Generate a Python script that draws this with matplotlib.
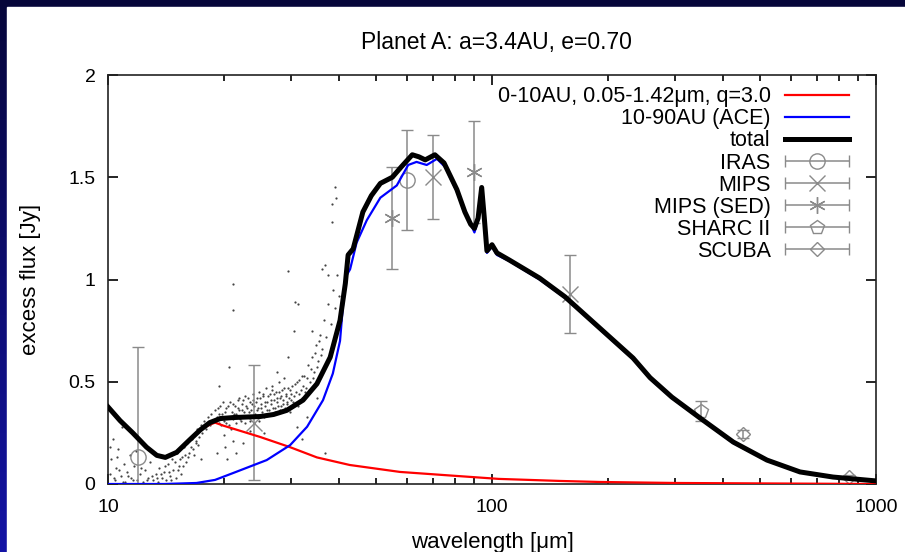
import numpy as np
import matplotlib
matplotlib.use("Agg")
import matplotlib.pyplot as plt
from matplotlib.lines import Line2D
from matplotlib.patches import Rectangle
from matplotlib.container import ErrorbarContainer
from matplotlib.legend_handler import HandlerErrorbar

plt.rcParams["font.family"] = ["Liberation Sans", "DejaVu Sans"]

# model curves (wavelength in um, flux in Jy)
total_wl = [10, 10.75, 11.6, 12.6, 13.4, 14.1, 15.1, 16.3, 17.4, 18.4, 19.6, 21.2, 24.9, 27, 29.2,
            32.2, 35, 37.9, 40.2, 41.5, 42.2, 43.5, 46.1, 48.5, 51.2, 55, 58, 62, 64.5, 67, 71, 75,
            81, 85, 88, 90, 92, 94, 95.5, 97, 100, 103, 111, 133, 155, 233, 258, 294, 348, 425,
            520, 634, 773, 1000]
total_fx = [0.377, 0.31, 0.25, 0.18, 0.14, 0.13, 0.155, 0.215, 0.265, 0.30, 0.32, 0.325, 0.33, 0.34,
            0.36, 0.41, 0.49, 0.62, 0.80, 0.98, 1.12, 1.15, 1.33, 1.41, 1.47, 1.50, 1.55, 1.61, 1.60,
            1.585, 1.61, 1.57, 1.44, 1.33, 1.27, 1.25, 1.30, 1.45, 1.30, 1.14, 1.17, 1.13, 1.095,
            1.007, 0.915, 0.616, 0.52, 0.425, 0.323, 0.205, 0.117, 0.059, 0.034, 0.015]

ace_wl = [10, 14, 17, 19, 21.2, 25.9, 29.8, 33, 36.3, 38.5, 40.2, 41.5, 42.7, 44.4, 47.2, 51.2,
          56.5, 60.5, 63.6, 67.6, 71.9, 75.5, 81, 86, 90, 92, 94, 95.5, 97, 100, 103, 111, 133,
          155, 233, 258, 294, 348, 425, 520, 634, 773, 1000]
ace_fx = [0, 0, 0.005, 0.02, 0.054, 0.117, 0.19, 0.28, 0.41, 0.54, 0.70, 1.01, 1.05, 1.18, 1.29,
          1.40, 1.46, 1.56, 1.575, 1.56, 1.59, 1.55, 1.43, 1.315, 1.23, 1.29, 1.44, 1.29, 1.13,
          1.16, 1.12, 1.09, 1.0, 0.91, 0.61, 0.515, 0.42, 0.32, 0.20, 0.115, 0.058, 0.033, 0.015]

inner_wl = [10, 10.75, 11.6, 12.6, 13.4, 14.1, 15.1, 16.3, 17.4, 18.4, 19, 20, 24.9, 29.8, 35,
            42.6, 57.6, 80, 104, 150, 190, 300, 1000]
inner_fx = [0.377, 0.31, 0.25, 0.18, 0.14, 0.13, 0.155, 0.215, 0.265, 0.29, 0.30, 0.285, 0.23,
            0.18, 0.13, 0.093, 0.059, 0.04, 0.025, 0.015, 0.01, 0.005, 0.0]

# photometry
iras_wl, iras_fx, iras_err = [12, 60], [0.13, 1.486], [0.54, 0.245]
mips_wl, mips_fx, mips_err = [24, 70, 160], [0.30, 1.50, 0.93], [0.28, 0.205, 0.19]
sed_wl, sed_fx, sed_err = [55, 90], [1.30, 1.525], [0.25, 0.25]
sharc_wl, sharc_fx, sharc_err = [350], [0.357], [0.05]
scuba_wl, scuba_fx, scuba_err = [450, 850], [0.245, 0.034], [0.02, 0.01]

# IRS spectrum dots (hand-read)
irs_wl = [10.1, 10.2, 10.3, 10.4, 10.5, 10.6, 10.8, 10.9, 11.0, 11.1, 11.2, 11.4, 11.5, 11.7, 11.9,
          12.1, 12.3, 12.5, 12.7, 12.9,
          13.1, 13.3, 13.5, 13.6, 13.8, 14.0, 14.2, 14.3, 14.5, 14.7, 14.8, 15.0, 15.1, 15.3, 15.5,
          15.6, 15.8, 16.0, 16.1, 16.3, 16.5, 16.6, 16.8, 17.0, 17.1, 17.3, 17.5, 17.6, 17.8, 18.0,
          18.2, 18.4, 18.6, 18.8,
          19.0, 19.2, 19.4, 19.6, 19.8, 20.0, 20.1, 20.2, 20.3, 20.4, 20.5, 20.6, 20.8, 21.0, 21.1,
          21.2, 21.4, 21.5, 21.6, 21.8, 22.0, 22.2, 22.4, 22.6, 22.8, 23.0, 23.2, 23.4, 23.6, 23.8,
          24.0, 24.2, 24.4, 24.6, 24.8, 25.0, 25.2, 25.4, 25.6, 25.8, 26.0, 26.2, 26.4, 26.6, 26.8,
          27.0, 27.2, 27.4, 27.6, 27.8, 28.0, 28.2, 28.4, 28.6, 28.8, 29.0, 29.2, 29.4, 29.6, 29.8,
          30.0, 30.3, 30.6, 30.9, 31.2, 31.5, 31.8, 32.1,
          32.4, 32.8, 33.2, 33.6, 34.0, 34.4, 34.8, 35.2, 35.6, 36.0, 36.5, 37.0, 37.5, 38.0, 38.5,
          39.0, 39.5, 40.0,
          19.5, 20.7, 23.5, 25.5, 27.5, 29.5, 30.5, 31.0, 33.0, 35.0, 36.0, 37.5, 38.2, 38.4, 39.0,
          39.2, 36.7, 32.0, 17.5, 19.2, 22.5, 34.0, 21.2, 21.2, 29.5, 30.7, 31.2, 36.8]
irs_fx = [0.05, 0.12, 0.22, 0.02, 0.08, 0.17, 0.04, 0.28, 0.10, 0.01, 0.06, 0.14, 0.03, 0.09, 0.02,
          0.05, 0.01, 0.07, 0.03, 0.11,
          0.02, 0.05, 0.01, 0.08, 0.03, 0.06, 0.02, 0.10, 0.04, 0.12, 0.07, 0.03, 0.15, 0.09, 0.05,
          0.13, 0.18, 0.11, 0.20, 0.15, 0.22, 0.17, 0.25, 0.20, 0.27, 0.23, 0.29, 0.25, 0.31, 0.27,
          0.33, 0.29, 0.34, 0.31,
          0.36, 0.33, 0.30, 0.38, 0.34, 0.31, 0.24, 0.18, 0.37, 0.12, 0.33, 0.29, 0.40, 0.35, 0.21,
          0.32, 0.38, 0.15, 0.34, 0.41, 0.36, 0.31, 0.39, 0.35, 0.43, 0.37, 0.33, 0.40, 0.36, 0.44,
          0.38, 0.34, 0.42, 0.37, 0.45, 0.39, 0.35, 0.43, 0.38, 0.47, 0.40, 0.36, 0.44, 0.39, 0.48,
          0.41, 0.37, 0.45, 0.40, 0.50, 0.42, 0.38, 0.46, 0.41, 0.52, 0.43, 0.39, 0.47, 0.42, 0.35,
          0.44, 0.40, 0.49, 0.45, 0.38, 0.51, 0.46, 0.42,
          0.53, 0.47, 0.58, 0.50, 0.62, 0.55, 0.68, 0.60, 0.73, 0.66, 0.80, 0.72, 0.88, 0.78, 0.95,
          0.86, 1.02, 0.92,
          0.48, 0.57, 0.26, 0.25, 0.55, 0.62, 0.75, 0.28, 0.33, 0.42, 1.05, 1.02, 1.28, 1.37, 1.45,
          1.40, 0.15, 0.22, 0.12, 0.15, 0.20, 0.75, 0.98, 0.85, 1.04, 0.89, 0.88, 1.07]

irs2_wl = [19.1, 19.3, 19.5, 19.7, 19.9, 20.15, 20.35, 20.55, 20.75, 20.95, 21.15, 21.35, 21.55,
           21.75, 21.95, 22.1, 22.3, 22.5, 22.7, 22.9, 23.1, 23.3, 23.5, 23.7, 23.9, 24.1, 24.3,
           24.5, 24.7, 24.9, 25.1, 25.3, 25.5, 25.7, 25.9, 26.1, 26.3, 26.5, 26.7, 26.9, 27.1,
           27.3, 27.5, 27.7, 27.9, 28.1, 28.3, 28.5, 28.7, 28.9, 29.1, 29.3, 29.5, 29.7, 29.9,
           30.15, 30.45, 30.75, 31.05, 31.35, 31.65, 31.95, 32.25, 32.6, 33.0, 33.4, 33.8, 34.2,
           34.6, 35.0, 35.4, 35.8,
           10.15, 10.35, 10.55, 10.7, 10.95, 11.3, 11.6, 11.8, 12.2, 12.6, 13.0, 13.4, 13.7, 14.1,
           14.4, 14.6, 14.9, 15.2, 15.4, 15.7, 15.9, 16.2, 16.4, 16.7, 16.9, 17.2]
irs2_fx = [0.31, 0.37, 0.34, 0.29, 0.40, 0.35, 0.30, 0.38, 0.33, 0.27, 0.39, 0.34, 0.30, 0.37,
           0.42, 0.32, 0.36, 0.41, 0.30, 0.38, 0.42, 0.35, 0.31, 0.39, 0.41, 0.33, 0.40, 0.36,
           0.31, 0.42, 0.37, 0.44, 0.33, 0.40, 0.36, 0.43, 0.34, 0.41, 0.46, 0.37, 0.44, 0.35,
           0.42, 0.38, 0.45, 0.36, 0.43, 0.39, 0.47, 0.37, 0.44, 0.40, 0.36, 0.46, 0.41, 0.48,
           0.43, 0.39, 0.50, 0.44, 0.41, 0.53, 0.48, 0.45, 0.52, 0.46, 0.56, 0.52, 0.64, 0.57,
           0.70, 0.63,
           0.18, 0.03, 0.13, 0.07, 0.01, 0.04, 0.02, 0.16, 0.08, 0.02, 0.04, 0.03, 0.05, 0.09,
           0.06, 0.02, 0.11, 0.07, 0.12, 0.09, 0.14, 0.13, 0.18, 0.14, 0.21, 0.19]

W, H = 905, 552
fig = plt.figure(figsize=(W / 100, H / 100), dpi=100)

# slide background: navy gradient + white panel
bg = fig.add_axes([0, 0, 1, 1], zorder=-10)
grad = np.linspace(0, 1, 256)[:, None]
top_c = np.array([6, 6, 58]) / 255
bot_c = np.array([20, 20, 165]) / 255
img = top_c[None, None, :] * (1 - grad[..., None]) + bot_c[None, None, :] * grad[..., None]
bg.imshow(np.repeat(img, 2, axis=1), aspect="auto", extent=[0, 1, 0, 1])
bg.add_patch(Rectangle((7 / W, 0), 1, 1 - 7 / H, color="white", transform=bg.transAxes))
bg.set_xlim(0, 1)
bg.set_ylim(0, 1)
bg.axis("off")

ax = fig.add_axes([108 / W, (H - 484) / H, 768 / W, 409 / H])
ax.set_facecolor("white")

ax.plot(irs_wl + irs2_wl, irs_fx + irs2_fx, "o", ms=1.6, mfc="#444444", mec="none", zorder=1)

grey = "#8a8a8a"
eb = dict(color=grey, ecolor=grey, mec=grey, elinewidth=1.1, capsize=4, capthick=1.1,
          linestyle="none", mfc="none", mew=1.0, zorder=2)
ax.errorbar(iras_wl, iras_fx, yerr=iras_err, marker="o", ms=11, **eb)
ax.errorbar(mips_wl, mips_fx, yerr=mips_err, marker="x", ms=11, **eb)
ax.errorbar(sed_wl, sed_fx, yerr=sed_err, marker=(6, 2, 0), ms=12, **eb)
ax.errorbar(sharc_wl, sharc_fx, yerr=sharc_err, marker="p", ms=10, **eb)
ax.errorbar(scuba_wl, scuba_fx, yerr=scuba_err, marker="D", ms=7, **eb)

ax.plot(inner_wl, inner_fx, color="#ff0000", lw=1.6, zorder=3)
ax.plot(ace_wl, ace_fx, color="#0000ff", lw=1.6, zorder=4)
ax.plot(total_wl, total_fx, color="black", lw=3.6, solid_joinstyle="round", zorder=5)

ax.set_xscale("log")
ax.set_xlim(10, 1000)
ax.set_ylim(0, 2)
ax.set_yticks([0, 0.5, 1, 1.5, 2])
ax.set_yticklabels(["0", "0.5", "1", "1.5", "2"])
ax.set_xticks([10, 100, 1000])
ax.set_xticklabels(["10", "100", "1000"])
ax.tick_params(which="both", direction="in", top=True, right=True, labelsize=14, width=1.2)
ax.tick_params(which="major", length=7)
ax.tick_params(which="minor", length=4)
ax.tick_params(axis="x", pad=11)
ax.tick_params(axis="y", pad=9)
for s in ax.spines.values():
    s.set_linewidth(1.2)
    s.set_color("#222222")

ax.set_xlabel("wavelength [μm]", fontsize=16)
ax.xaxis.set_label_coords(0.5, -0.118)
ax.set_ylabel("excess flux [Jy]", fontsize=16)
ax.yaxis.set_label_coords(-0.087, 0.5)
fig.text(496 / W, 1 - 42 / H, "Planet A: a=3.4AU, e=0.70", ha="center", va="center", fontsize=16.5)

# legend in gnuplot style
handles = [Line2D([], [], color="#ff0000", lw=1.6),
           Line2D([], [], color="#0000ff", lw=1.6),
           Line2D([], [], color="black", lw=3.6)]
for m, ms in [("o", 11), ("x", 11), ((6, 2, 0), 12), ("p", 10), ("D", 7)]:
    handles.append(ax.errorbar([np.nan], [np.nan], xerr=[0.0], marker=m, ms=ms, **eb))
labels = ["0-10AU, 0.05-1.42μm, q=3.0", "10-90AU (ACE)", "total",
          "IRAS", "MIPS", "MIPS (SED)", "SHARC II", "SCUBA"]
leg = ax.legend(handles, labels, loc="upper right", bbox_to_anchor=(0.982, 1.004),
                frameon=False, markerfirst=False, numpoints=1, fontsize=15.5,
                handlelength=3.0, handletextpad=0.65, labelspacing=0.05, borderaxespad=0.2,
                handler_map={ErrorbarContainer: HandlerErrorbar(xerr_size=1.5)})
for t in leg.get_texts():
    t.set_ha("right")
leg._legend_box.align = "right"

fig.savefig("out.png", dpi=100)
